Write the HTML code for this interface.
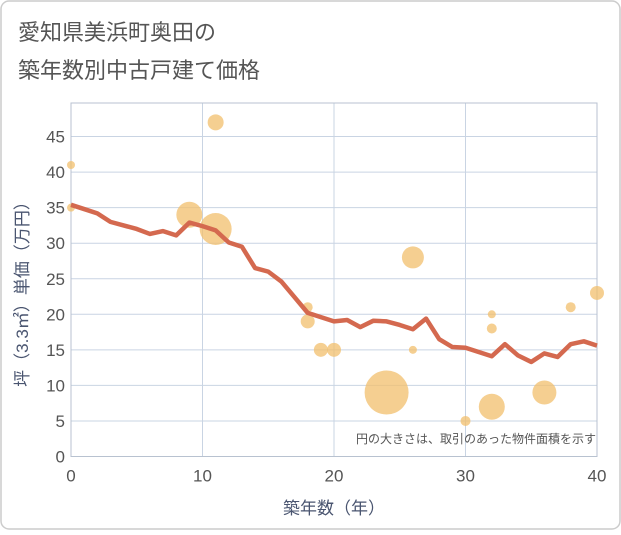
<!DOCTYPE html>
<html><head><meta charset="utf-8"><style>
body{margin:0;background:#fff;}
svg text{font-family:"Liberation Sans","Noto Sans CJK JP",sans-serif;}
</style></head><body>
<svg width="621" height="530" xmlns="http://www.w3.org/2000/svg">
<rect x="1" y="1" width="619" height="528" rx="8" fill="#fff" stroke="#ccc" stroke-width="1.5"/>
<text x="18" y="40" font-size="22" fill="#555">愛知県美浜町奥田の</text>
<text x="18" y="78" font-size="22" fill="#555">築年数別中古戸建て価格</text>
<g id="grid"></g>
<g id="bubbles"></g>
<g id="line"></g>
<g id="axes"></g>
<text x="596" y="443" font-size="12" fill="#555" text-anchor="end">円の大きさは、取引のあった物件面積を示す</text>
<text x="334" y="514" font-size="17" fill="#4a5570" text-anchor="middle">築年数（年）</text>
<text transform="translate(28,290) rotate(-90)" font-size="17" fill="#4a5570" text-anchor="middle">坪（3.3㎡）単価（万円）</text>
</svg>
<script>
const lineYears=[0,1,2,3,4,5,6,7,8,9,10,11,12,13,14,15,16,17,18,19,20,21,22,23,24,25,26,27,28,29,30,31,32,33,34,35,36,37,38,39,40];
const linePrices=[35.4,34.8,34.2,33,32.5,32,31.3,31.7,31.1,32.9,32.4,31.8,30.1,29.5,26.5,26,24.6,22.4,20.2,19.6,19,19.2,18.2,19.1,19,18.5,17.9,19.4,16.5,15.4,15.3,14.7,14.1,15.8,14.2,13.3,14.5,14,15.8,16.2,15.6];
const bubbleYears=[0,0,9,11,11,18,18,19,20,24,26,26,30,32,32,32,36,38,40];
const bubblePrices=[41,35,34,47,32,21,19,15,15,9,28,15,5,20,18,7,9,21,23];
const bubbleAreas=[16,16,169,64,256,25,49,49,49,484,121,16,25,16,25,169,144,25,49];
const xTicks=[0,10,20,30,40];
const yTicks=[0,5,10,15,20,25,30,35,40,45];
const L=71,R=597,T=103,B=456.5;
const xs=v=>L+(v/40)*(R-L);
const ys=v=>B-v*7.11;
const NS="http://www.w3.org/2000/svg";
function mk(tag,parent,attrs){const e=document.createElementNS(NS,tag);for(const k in attrs)e.setAttribute(k,attrs[k]);document.getElementById(parent).appendChild(e);return e;}
yTicks.forEach(v=>{
 const l=mk('line','grid',{x1:L,x2:R,y1:ys(v),y2:ys(v),stroke:'#c9d4e3','stroke-width':1});
 
 
 const t=mk('text','axes',{x:L-6,y:ys(v)+6,'font-size':17,fill:'#555','text-anchor':'end'});
 t.textContent=v;
 
 
});
xTicks.forEach(v=>{
 const l=mk('line','grid',{x1:xs(v),x2:xs(v),y1:T,y2:B,stroke:'#c9d4e3','stroke-width':1});
 
 
 const t=mk('text','axes',{x:xs(v),y:B+25,'font-size':17,fill:'#555','text-anchor':'middle'});
 t.textContent=v;
 
 
});
const fr=mk('rect','grid',{x:L,y:T,width:R-L,height:B-T,fill:'none',stroke:'#b8c2d0','stroke-width':1});


bubbleYears.forEach((x,i)=>{
 const c=mk('circle','bubbles',{cx:xs(x),cy:ys(bubblePrices[i]),r:Math.sqrt(bubbleAreas[i]),fill:'#f2bf6c','fill-opacity':0.75});
 
 
});
const p=mk('polyline','line',{points:lineYears.map((x,i)=>xs(x)+','+ys(linePrices[i])).join(' '),fill:'none',stroke:'#d4694f','stroke-width':4.5,'stroke-linejoin':'round'});


</script>
</body></html>
